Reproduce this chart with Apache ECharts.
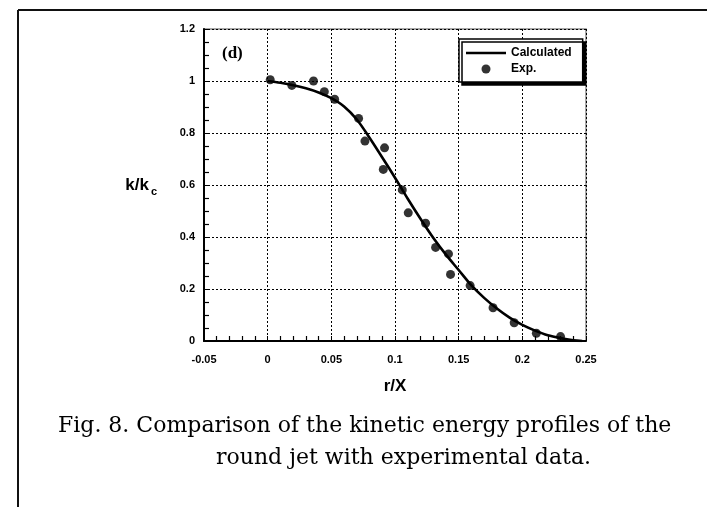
<!DOCTYPE html>
<html>
<head>
<meta charset="utf-8">
<script src="https://cdn.jsdelivr.net/npm/echarts@6/dist/echarts.min.js"></script>
<style>html,body{margin:0;padding:0;background:#fff}#c{width:707px;height:507px}</style>
</head>
<body>
<div id="c"></div>
<script>
// Experimental points (r/X, k/kc)
var expR = [0.002, 0.019, 0.036, 0.0445, 0.0526, 0.0714, 0.0764, 0.0918, 0.0908, 0.1057, 0.1104, 0.124, 0.1319, 0.142, 0.1436, 0.159, 0.177, 0.1936, 0.211, 0.230];
var expK = [1.005, 0.983, 1.0, 0.959, 0.930, 0.856, 0.769, 0.743, 0.660, 0.581, 0.493, 0.453, 0.360, 0.335, 0.256, 0.213, 0.128, 0.070, 0.030, 0.017];
// Calculated curve
var calcR = [0, 0.01, 0.02, 0.03, 0.04, 0.05, 0.06, 0.07, 0.08, 0.09, 0.10, 0.11, 0.12, 0.13, 0.14, 0.15, 0.16, 0.17, 0.18, 0.19, 0.20, 0.21, 0.22, 0.23, 0.24, 0.247];
var calcK = [1.0, 0.993, 0.984, 0.972, 0.956, 0.934, 0.902, 0.852, 0.782, 0.706, 0.628, 0.547, 0.470, 0.397, 0.332, 0.273, 0.214, 0.166, 0.125, 0.090, 0.062, 0.040, 0.022, 0.011, 0.003, 0.0];
var xTicks = ['-0.05', '0', '0.05', '0.1', '0.15', '0.2', '0.25'];
var yTicks = ['0', '0.2', '0.4', '0.6', '0.8', '1', '1.2'];

function zip(a, b) { return a.map(function (v, i) { return [v, b[i]]; }); }

var chart = echarts.init(document.getElementById('c'), null, {renderer: 'canvas'});
var sans = 'Liberation Sans';
chart.setOption({
  animation: false,
  backgroundColor: '#fff',
  grid: {left: 204, right: 121, top: 29, bottom: 166, show: true, borderColor: '#8a8a8a', borderWidth: 1.5, backgroundColor: 'transparent'},
  xAxis: {
    type: 'value', min: -0.05, max: 0.25, interval: 0.05,
    name: 'r/X', nameLocation: 'middle', nameGap: 37,
    nameTextStyle: {fontFamily: sans, fontWeight: 'bold', fontSize: 17, color: '#000'},
    axisLine: {show: true, onZero: false, lineStyle: {color: '#000', width: 2}},
    axisTick: {show: true, inside: true, length: 5, lineStyle: {color: '#000'}},
    minorTick: {show: true, splitNumber: 5, length: 5, lineStyle: {color: '#000', width: 1.2}},
    splitLine: {show: true, lineStyle: {color: '#000', type: [2, 2], width: 1}},
    axisLabel: {margin: 13, fontFamily: sans, fontWeight: 'bold', fontSize: 11, color: '#000',
      formatter: function (v) { var i = Math.round((v + 0.05) / 0.05); return xTicks[i]; }}
  },
  yAxis: {
    type: 'value', min: 0, max: 1.2, interval: 0.2,
    name: '{a|k/k}{b|c}', nameLocation: 'middle', nameGap: 47, nameRotate: 0,
    nameTextStyle: {rich: {
      a: {fontFamily: sans, fontWeight: 'bold', fontSize: 17, color: '#000', lineHeight: 20, verticalAlign: 'middle'},
      b: {fontFamily: sans, fontWeight: 'bold', fontSize: 11, color: '#000', lineHeight: 10, verticalAlign: 'middle', padding: [14, 0, 0, 2]}
    }},
    axisLine: {show: true, onZero: false, lineStyle: {color: '#000', width: 2}},
    axisTick: {show: true, inside: true, length: 5, lineStyle: {color: '#000'}},
    minorTick: {show: true, splitNumber: 4, length: 5, lineStyle: {color: '#000', width: 1.2}},
    splitLine: {show: true, lineStyle: {color: '#000', type: [2, 2], width: 1}},
    axisLabel: {margin: 9, fontFamily: sans, fontWeight: 'bold', fontSize: 11, color: '#000',
      formatter: function (v) { var i = Math.round(v / 0.2); return yTicks[i]; }}
  },
  legend: {
    left: 459, top: 39, orient: 'vertical',
    backgroundColor: '#fff', borderColor: '#000', borderWidth: 1.5,
    shadowColor: '#000', shadowOffsetX: 3, shadowOffsetY: 3, shadowBlur: 0,
    padding: [7, 11, 6, 7], itemGap: 2, itemWidth: 40, itemHeight: 9,
    textStyle: {fontFamily: sans, fontWeight: 'bold', fontSize: 12, color: '#000', lineHeight: 14},
    data: [
      {name: 'Calculated', icon: 'path://M0,0H40V2.6H0Z'},
      {name: 'Exp.', icon: 'circle'}
    ]
  },
  series: [
    {name: 'Calculated', type: 'line', data: zip(calcR, calcK), smooth: 0.3, showSymbol: false,
      lineStyle: {color: '#000', width: 2.6}, itemStyle: {color: '#000'}, z: 2},
    {name: 'Exp.', type: 'scatter', data: zip(expR, expK), symbol: 'circle', symbolSize: 9,
      itemStyle: {color: '#000'}, z: 3}
  ],
  graphic: [
    {type: 'line', shape: {x1: 18, y1: 10, x2: 707, y2: 10}, style: {stroke: '#111', lineWidth: 2}},
    {type: 'line', shape: {x1: 18, y1: 10, x2: 18, y2: 507}, style: {stroke: '#111', lineWidth: 2}},
    {type: 'text', left: 222, top: 45, style: {text: '(d)', font: 'bold 17px "Liberation Serif"', fill: '#000'}},
    {type: 'text', left: 58, top: 415, style: {text: 'Fig. 8. Comparison of the kinetic energy profiles of the', font: '22px "DejaVu Serif"', fill: '#000'}},
    {type: 'text', left: 216, top: 447, style: {text: 'round jet with experimental data.', font: '22px "DejaVu Serif"', fill: '#000'}}
  ]
});
</script>
</body>
</html>
